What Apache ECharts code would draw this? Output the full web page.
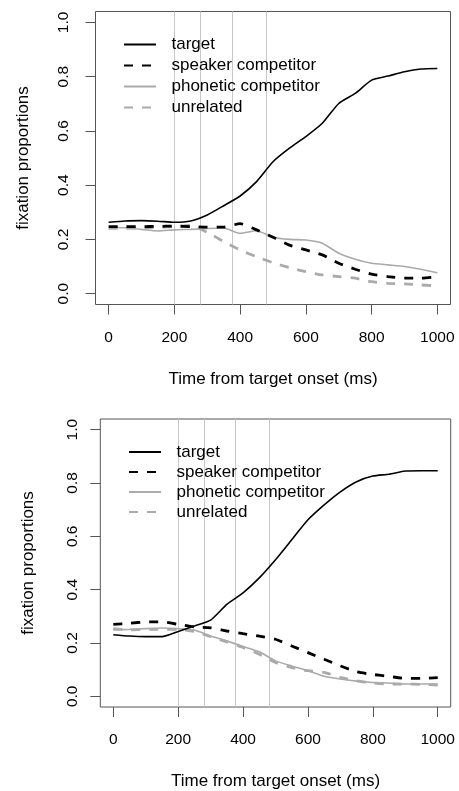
<!DOCTYPE html>
<html>
<head>
<meta charset="utf-8">
<title>fixation proportions</title>
<script src="https://cdn.jsdelivr.net/npm/echarts@6/dist/echarts.min.js"></script>
<style>
  html, body { margin: 0; padding: 0; background: #fff; }
  #chart { width: 459px; height: 791px; }
</style>
</head>
<body>
<div id="chart"></div>
<script>
// time points (ms from target onset)
var times = [0, 50, 100, 150, 200, 250, 300, 350, 400, 450, 500, 550, 600, 650, 700, 750, 800, 850, 900, 950, 1000];
var xTicks = [0, 200, 400, 600, 800, 1000];
var yTicks = [0, 0.2, 0.4, 0.6, 0.8, 1.0];
var markTimes = [200, 280, 375, 480];
var seriesNames = ['target', 'speaker competitor', 'phonetic competitor', 'unrelated'];

// upper panel
var topTarget   = [0.263, 0.268, 0.269, 0.267, 0.263, 0.268, 0.290, 0.324, 0.360, 0.413, 0.486, 0.536, 0.579, 0.628, 0.701, 0.738, 0.787, 0.802, 0.818, 0.828, 0.830];
var topSpeaker  = [0.247, 0.247, 0.247, 0.248, 0.249, 0.247, 0.245, 0.245, 0.258, 0.235, 0.208, 0.179, 0.161, 0.143, 0.112, 0.090, 0.072, 0.063, 0.057, 0.057, 0.063];
var topPhonetic = [0.245, 0.243, 0.237, 0.231, 0.235, 0.237, 0.240, 0.242, 0.222, 0.232, 0.208, 0.200, 0.198, 0.186, 0.149, 0.127, 0.112, 0.106, 0.100, 0.090, 0.077];
var topUnrel    = [0.241, 0.241, 0.242, 0.245, 0.247, 0.252, 0.226, 0.192, 0.161, 0.136, 0.114, 0.096, 0.081, 0.069, 0.063, 0.057, 0.044, 0.038, 0.036, 0.032, 0.029];

// lower panel
var botTarget   = [0.231, 0.226, 0.224, 0.224, 0.243, 0.264, 0.286, 0.345, 0.388, 0.444, 0.512, 0.587, 0.662, 0.718, 0.767, 0.805, 0.826, 0.833, 0.845, 0.846, 0.846];
var botSpeaker  = [0.270, 0.274, 0.279, 0.279, 0.270, 0.260, 0.257, 0.245, 0.235, 0.226, 0.214, 0.189, 0.164, 0.139, 0.114, 0.092, 0.082, 0.075, 0.067, 0.067, 0.070];
var botPhonetic = [0.249, 0.251, 0.254, 0.256, 0.254, 0.249, 0.226, 0.208, 0.187, 0.167, 0.133, 0.114, 0.096, 0.075, 0.065, 0.057, 0.052, 0.050, 0.046, 0.046, 0.046];
var botUnrel    = [0.254, 0.249, 0.251, 0.251, 0.251, 0.243, 0.224, 0.204, 0.183, 0.158, 0.127, 0.108, 0.096, 0.090, 0.071, 0.058, 0.050, 0.046, 0.046, 0.045, 0.042];

var FONT = '"Liberation Sans", Arial, Helvetica, sans-serif';

var styles = [
  { color: '#000', width: 1.6, type: 'solid' },
  { color: '#000', width: 2.8, type: [9, 9] },
  { color: '#aaa', width: 1.6, type: 'solid' },
  { color: '#aaa', width: 2.8, type: [9, 9] }
];

function pairs(vals) {
  return times.map(function (t, i) { return [t, vals[i]]; });
}

// lay: label margin / name gap per panel
function xAxis(idx, lay) {
  return {
    type: 'value', gridIndex: idx, min: -40, max: 1040,
    name: 'Time from target onset (ms)', nameLocation: 'middle', nameGap: lay.nameGap,
    nameTextStyle: { fontSize: 17, color: '#000', fontFamily: FONT },
    axisLine: { show: false, onZero: false },
    splitLine: { show: false },
    axisTick: { length: 10, inside: false, lineStyle: { color: '#555' }, customValues: xTicks },
    axisLabel: {
      fontSize: 15.5, color: '#000', fontFamily: FONT, margin: lay.margin, customValues: xTicks,
      formatter: function (v) { return String(v); }
    }
  };
}

function yAxis(idx, lay) {
  return {
    type: 'value', gridIndex: idx, min: -0.04, max: 1.04,
    name: 'fixation proportions', nameLocation: 'middle', nameGap: lay.nameGap, nameRotate: 90,
    nameTextStyle: { fontSize: 17, color: '#000', fontFamily: FONT },
    axisLine: { show: false, onZero: false },
    splitLine: { show: false },
    axisTick: { length: 10, inside: false, lineStyle: { color: '#555' }, customValues: yTicks },
    axisLabel: {
      fontSize: 15.5, color: '#000', fontFamily: FONT, margin: lay.margin, rotate: 90,
      customValues: yTicks,
      formatter: function (v) { return v.toFixed(1); }
    }
  };
}

function panelSeries(idx, data) {
  return data.map(function (vals, k) {
    var s = {
      name: seriesNames[k], type: 'line', xAxisIndex: idx, yAxisIndex: idx,
      symbol: 'none', smooth: 0.2, silent: true,
      lineStyle: styles[k], itemStyle: { color: styles[k].color },
      data: pairs(vals), z: 5 - k
    };
    if (k === 0) {
      s.markLine = {
        silent: true, symbol: 'none', label: { show: false },
        lineStyle: { color: '#c8c8c8', width: 1, type: 'solid' },
        data: markTimes.map(function (t) { return { xAxis: t }; }),
        z: 1
      };
    }
    return s;
  });
}

function legend(left, top, gap) {
  return {
    orient: 'vertical', left: left, top: top, padding: 0, selectedMode: false,
    data: seriesNames, itemWidth: 32, itemHeight: 14, itemGap: gap,
    itemStyle: { opacity: 0 },
    textStyle: { fontSize: 17, lineHeight: 17, color: '#000', fontFamily: FONT, padding: [0, 0, 0, 10.5] }
  };
}

var chart = echarts.init(document.getElementById('chart'), null, { renderer: 'canvas' });
chart.setOption({
  backgroundColor: '#fff',
  animation: false,
  grid: [
    { left: 95.5, top: 11.5, width: 355, height: 293, show: true, borderColor: '#555', borderWidth: 1 },
    { left: 100.3, top: 419, width: 350.4, height: 288, show: true, borderColor: '#555', borderWidth: 1 }
  ],
  legend: [legend(123, 36, 4), legend(128, 443.5, 3)],
  xAxis: [xAxis(0, { margin: 25.5, nameGap: 66 }), xAxis(1, { margin: 25, nameGap: 66 })],
  yAxis: [yAxis(0, { margin: 24, nameGap: 63.5 }), yAxis(1, { margin: 19.5, nameGap: 63 })],
  series: panelSeries(0, [topTarget, topSpeaker, topPhonetic, topUnrel])
    .concat(panelSeries(1, [botTarget, botSpeaker, botPhonetic, botUnrel]))
});
</script>
</body>
</html>
